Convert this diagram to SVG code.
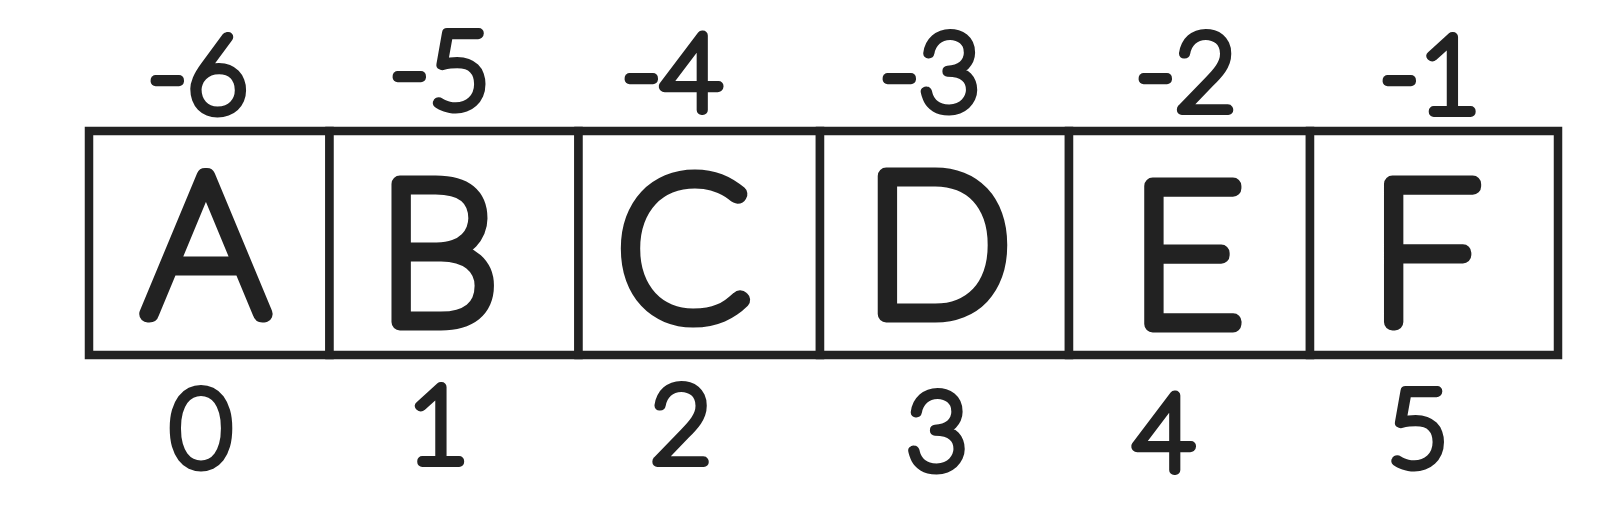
<svg xmlns="http://www.w3.org/2000/svg" width="1623" height="528" viewBox="0 0 1623 528">
<style>
.cell{fill:#ffffff;stroke:#222222;stroke-width:8.5}
.let{font-family:Lato,"Liberation Sans",sans-serif;font-weight:100;font-size:196px;fill:#222222;stroke:#222222;stroke-width:17;stroke-linejoin:round;stroke-linecap:round;text-anchor:middle}
.num{font-family:Lato,"Liberation Sans",sans-serif;font-weight:100;font-size:106px;fill:#222222;stroke:#222222;stroke-width:10;stroke-linejoin:round;stroke-linecap:round;text-anchor:middle}
</style>
<rect width="1623" height="528" fill="#ffffff"/>
<g id="cell-A">
<rect class="cell" x="89" y="131" width="240.5" height="224"/>
<text class="let" x="206" y="314">A</text>
<text class="num" x="198" y="112">-6</text>
<text class="num" x="201" y="466">0</text>
</g>
<g id="cell-B">
<rect class="cell" x="329.5" y="131" width="249" height="224"/>
<text class="let" x="438" y="322">B</text>
<text class="num" x="440" y="108">-5</text>
<text class="num" x="438" y="462">1</text>
</g>
<g id="cell-C">
<rect class="cell" x="578.5" y="131" width="241.5" height="224"/>
<text class="let" x="683" y="318">C</text>
<text class="num" x="672" y="110">-4</text>
<text class="num" x="681" y="462">2</text>
</g>
<g id="cell-D">
<rect class="cell" x="820" y="131" width="249" height="224"/>
<text class="let" x="938" y="314">D</text>
<text class="num" x="930" y="110">-3</text>
<text class="num" x="937" y="469">3</text>
</g>
<g id="cell-E">
<rect class="cell" x="1069" y="131" width="241" height="224"/>
<text class="let" x="1187" y="324">E</text>
<text class="num" x="1186" y="110">-2</text>
<text class="num" x="1164" y="470">4</text>
</g>
<g id="cell-F">
<rect class="cell" x="1310" y="131" width="248" height="224"/>
<text class="let" x="1425" y="322">F</text>
<text class="num" x="1430" y="112">-1</text>
<text class="num" x="1418" y="466">5</text>
</g>
</svg>
